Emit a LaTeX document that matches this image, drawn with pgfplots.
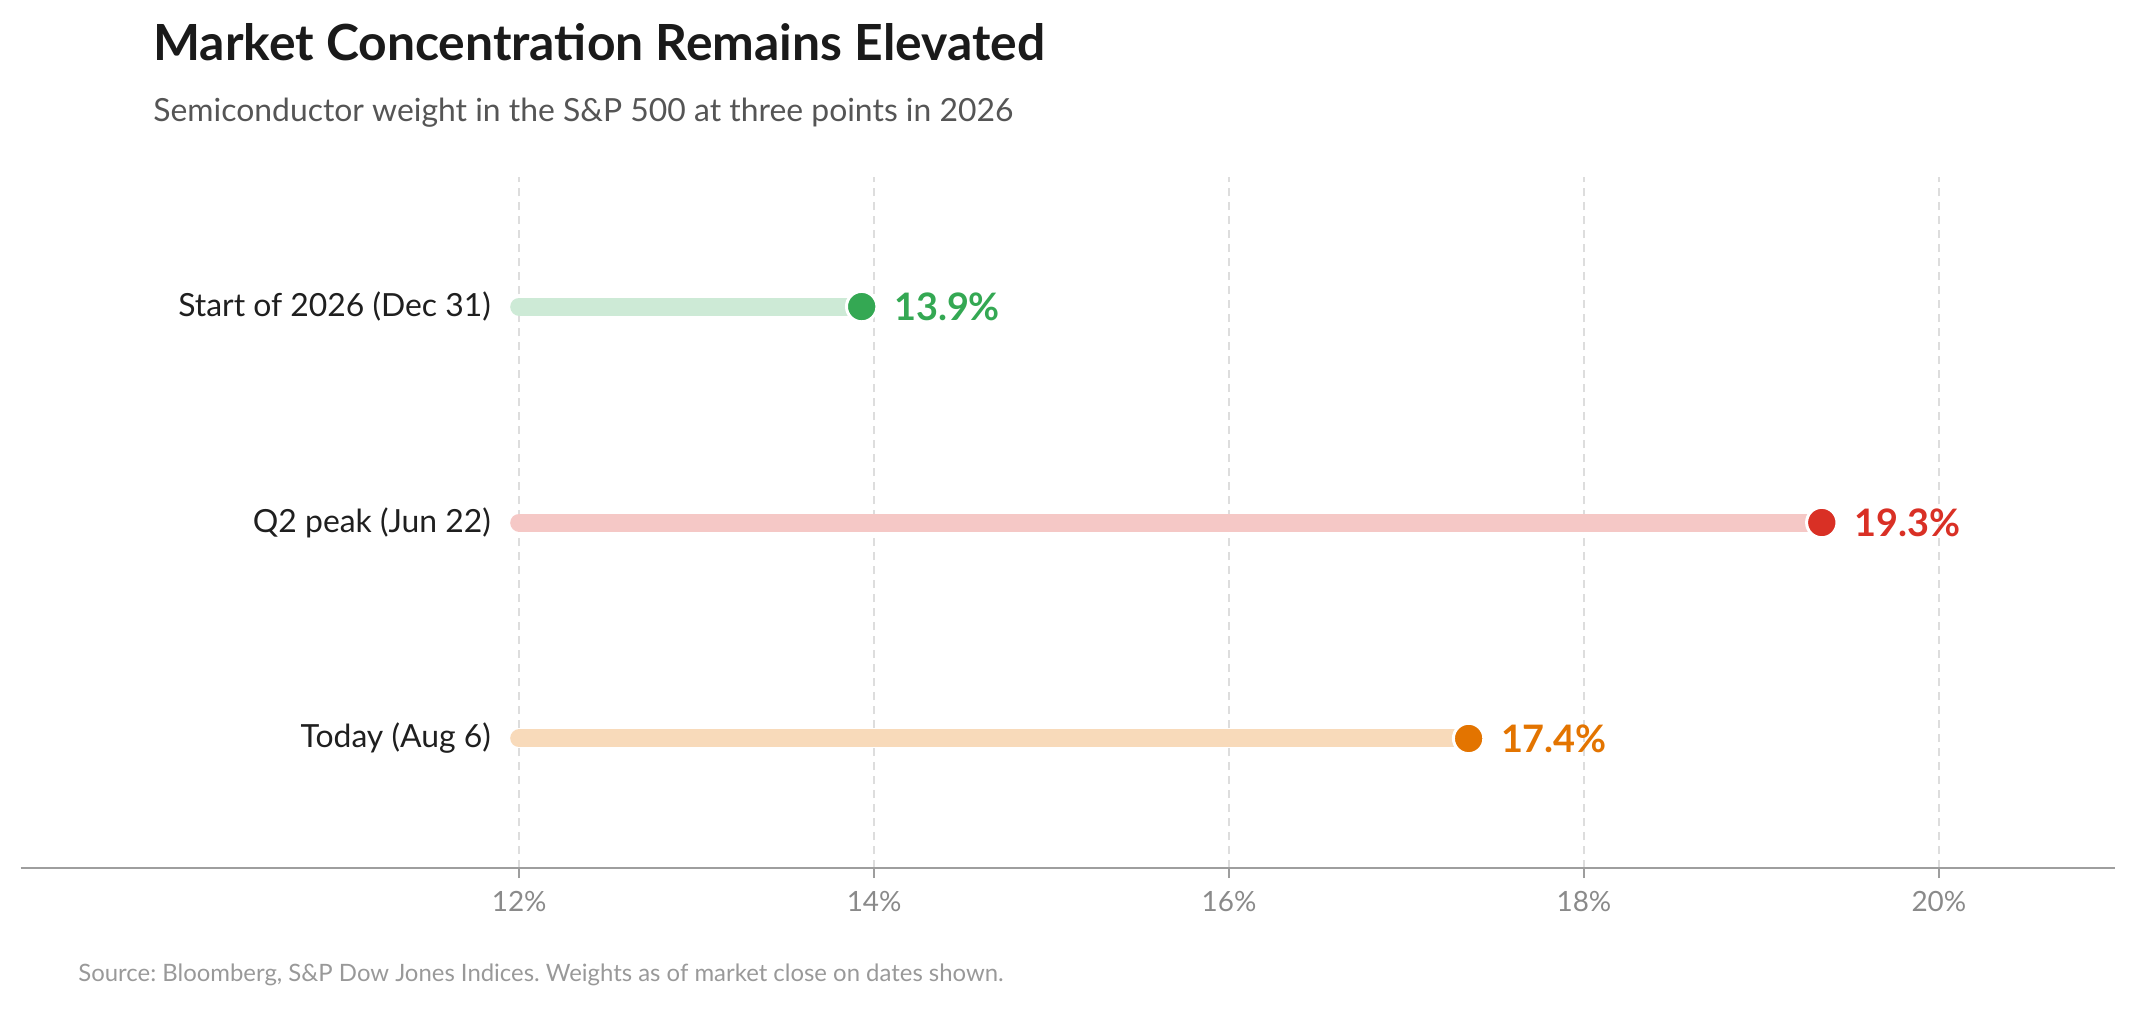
\documentclass[border=0pt]{standalone}
\usepackage{pgfplots}
\pgfplotsset{compat=1.18}
\usepackage{fontspec}
\setmainfont{Lato}
\frenchspacing
\definecolor{titlec}{HTML}{1A1A1A}
\definecolor{subc}{HTML}{555555}
\definecolor{catc}{HTML}{1F1F1F}
\definecolor{tickc}{HTML}{8A8A8A}
\definecolor{srcc}{HTML}{999999}
\definecolor{gridc}{HTML}{DDDDDD}
\definecolor{axisc}{HTML}{9E9E9E}
\definecolor{greend}{HTML}{34A853}
\definecolor{greenl}{HTML}{CDEAD6}
\definecolor{redd}{HTML}{D93025}
\definecolor{redl}{HTML}{F5C8C6}
\definecolor{oranged}{HTML}{E37400}
\definecolor{orangel}{HTML}{F8DABA}
\begin{document}
\begin{tikzpicture}[x=0.5bp,y=0.5bp]
\path[use as bounding box] (0,0) rectangle (2139,-1008);
\node[anchor=base west, inner sep=0, font=\fontsize{25}{30}\selectfont\bfseries, text=titlec] at (153,-60) {Market Concentration Remains Elevated};
\node[anchor=base west, inner sep=0, font=\fontsize{16}{19}\selectfont, text=subc] at (153,-121) {Semiconductor weight in the S\&P 500 at three points in 2026};
\node[anchor=base west, inner sep=0, font=\fontsize{12}{14}\selectfont, text=srcc] at (78,-981) {Source: Bloomberg, S\&P Dow Jones Indices. Weights as of market close on dates shown.};
\begin{axis}[
  scale only axis, width=1047bp, height=345.5bp,
  at={(10.25bp,-434bp)}, anchor=south west,
  xmin=9.19, xmax=20.99, ymin=0.4, ymax=3.6,
  axis x line=bottom, axis y line=none,
  x axis line style={-, draw=axisc, line width=1.25bp},
  xtick={12,14,16,18,20},
  xticklabels={12\%,14\%,16\%,18\%,20\%},
  ytick=\empty,
  tick align=outside, major tick length=5bp,
  xtick style={draw=axisc, line width=0.8bp},
  xmajorgrids,
  grid style={draw=gridc, line width=0.75bp, dash pattern=on 4bp off 3bp},
  xticklabel style={font=\fontsize{14}{16}\selectfont, text=tickc, yshift=-3bp},
  clip=false,
]
\addplot[line width=9bp, line cap=round, draw=greenl] coordinates {(12,3) (13.93,3)};
\addplot[line width=9bp, line cap=round, draw=redl] coordinates {(12,2) (19.34,2)};
\addplot[line width=9bp, line cap=round, draw=orangel] coordinates {(12,1) (17.35,1)};
\addplot[only marks, mark=*, mark size=7.6bp, mark options={fill=greend, draw=white, line width=1.5bp}] coordinates {(13.93,3)};
\addplot[only marks, mark=*, mark size=7.6bp, mark options={fill=redd, draw=white, line width=1.5bp}] coordinates {(19.34,2)};
\addplot[only marks, mark=*, mark size=7.6bp, mark options={fill=oranged, draw=white, line width=1.5bp}] coordinates {(17.35,1)};
\node[anchor=west, inner sep=0, xshift=16bp, font=\fontsize{19}{22}\selectfont\bfseries, text=greend] at (axis cs:13.93,3) {13.9\%};
\node[anchor=west, inner sep=0, xshift=16bp, font=\fontsize{19}{22}\selectfont\bfseries, text=redd] at (axis cs:19.34,2) {19.3\%};
\node[anchor=west, inner sep=0, xshift=16bp, font=\fontsize{19}{22}\selectfont\bfseries, text=oranged] at (axis cs:17.35,1) {17.4\%};
\node[anchor=east, inner sep=0, xshift=-14bp, font=\fontsize{16}{19}\selectfont, text=catc] at (axis cs:12,3) {Start of 2026 (Dec 31)};
\node[anchor=east, inner sep=0, xshift=-14bp, font=\fontsize{16}{19}\selectfont, text=catc] at (axis cs:12,2) {Q2 peak (Jun 22)};
\node[anchor=east, inner sep=0, xshift=-14bp, font=\fontsize{16}{19}\selectfont, text=catc] at (axis cs:12,1) {Today (Aug 6)};
\end{axis}
\end{tikzpicture}
\end{document}
